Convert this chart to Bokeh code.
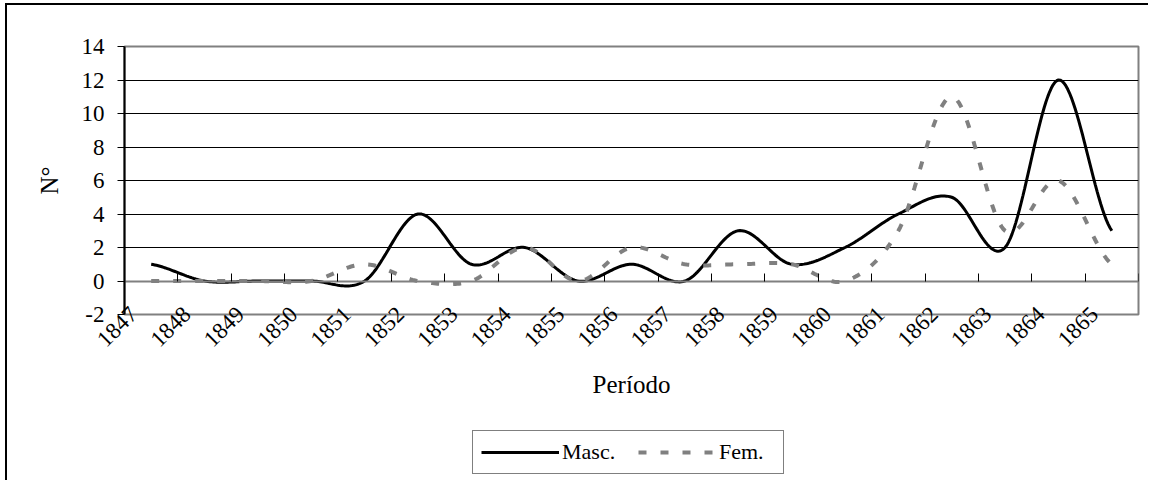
import math
import numpy as np
from bokeh.plotting import figure
from bokeh.layouts import column
from bokeh.models import (Range1d, FixedTicker, LinearAxis, Legend, LegendItem,
                          ColumnDataSource, InlineStyleSheet)
from bokeh.embed import file_html
from bokeh.resources import INLINE

# ---- data -------------------------------------------------------------
years = [str(y) for y in range(1847, 1866)]
masc = [1, 0, 0, 0, 0, 4, 1, 2, 0, 1, 0, 3, 1, 2, 4, 5, 2, 12, 3]
fem = [0, 0, 0, 0, 1, 0, 0, 2, 0, 2, 1, 1, 1, 0, 3, 11, 3, 6, 1]
y_ticks = [-2, 0, 2, 4, 6, 8, 10, 12, 14]
grid_ticks = [2, 4, 6, 8, 10, 12]
series_names = ["Masc.", "Fem."]

FONT = "Liberation Serif"
GRAY = "#808080"
MASC_STYLE = dict(line_color="black", line_width=3)
FEM_STYLE = dict(line_color=GRAY, line_width=4, line_dash="8 14")


def smooth(vals, steps=30):
    """Catmull-Rom style smoothing (as in spreadsheet 'smoothed line')."""
    n = len(vals)
    xs, ys = [], []
    for i in range(n - 1):
        p0 = vals[i - 1] if i > 0 else vals[i]
        p1, p2 = vals[i], vals[i + 1]
        p3 = vals[i + 2] if i + 2 < n else vals[i + 1]
        m1 = (p2 - p0) / 2.0
        m2 = (p3 - p1) / 2.0
        t = np.linspace(0, 1, steps, endpoint=(i == n - 2))
        h00 = 2 * t**3 - 3 * t**2 + 1
        h10 = t**3 - 2 * t**2 + t
        h01 = -2 * t**3 + 3 * t**2
        h11 = t**3 - t**2
        xs.extend(list(i + 0.5 + t))
        ys.extend(list(h00 * p1 + h10 * m1 + h01 * p2 + h11 * m2))
    return xs, ys


mx, my = smooth(masc)
fx, fy = smooth(fem)
src_m = ColumnDataSource(dict(x=mx, y=my))
src_f = ColumnDataSource(dict(x=fx, y=fy))

n = len(years)
p = figure(frame_width=1014, frame_height=268,
           x_range=Range1d(0, n), y_range=Range1d(-2, 14),
           output_backend="svg", toolbar_location=None,
           min_border_left=117, min_border_top=41, min_border_right=10,
           min_border_bottom=113)
p.background_fill_color = "white"
p.border_fill_color = "white"
p.outline_line_color = GRAY
p.outline_line_width = 2

# grid
p.xgrid.visible = False
p.ygrid.ticker = FixedTicker(ticks=grid_ticks)
p.ygrid.grid_line_color = "black"
p.ygrid.grid_line_width = 1

# y axis
p.yaxis.ticker = FixedTicker(ticks=y_ticks)
p.yaxis.major_label_overrides = {t: str(t) for t in y_ticks}
p.yaxis.axis_line_color = "black"
p.yaxis.axis_line_width = 2
p.yaxis.major_tick_line_color = "black"
p.yaxis.major_tick_out = 7
p.yaxis.major_tick_in = 0
p.yaxis.minor_tick_line_color = None
p.yaxis.major_label_text_font = FONT
p.yaxis.major_label_text_font_size = "23px"
p.yaxis.major_label_text_color = "black"
p.yaxis.major_label_standoff = 13
p.yaxis.axis_label = "N°"
p.yaxis.axis_label_text_font = FONT
p.yaxis.axis_label_text_font_style = "normal"
p.yaxis.axis_label_text_font_size = "25px"
p.yaxis.axis_label_text_color = "black"
p.yaxis.axis_label_standoff = 16

# x axis (labels)
p.xaxis.ticker = FixedTicker(ticks=[i + 0.17 for i in range(n)])
p.xaxis.major_label_overrides = {i + 0.17: years[i] for i in range(n)}
p.xaxis.major_label_orientation = math.pi / 4
p.xaxis.axis_line_color = None
p.xaxis.major_tick_line_color = None
p.xaxis.minor_tick_line_color = None
p.xaxis.major_label_text_font = FONT
p.xaxis.major_label_text_font_size = "23px"
p.xaxis.major_label_text_color = "black"
p.xaxis.major_label_standoff = -10
p.xaxis.axis_label = "Período"
p.xaxis.axis_label_text_font = FONT
p.xaxis.axis_label_text_font_style = "normal"
p.xaxis.axis_label_text_font_size = "25px"
p.xaxis.axis_label_text_color = "black"
p.xaxis.axis_label_standoff = 14

# category axis line at y = 0 with tick marks between categories
tick_axis = LinearAxis(fixed_location=0, ticker=FixedTicker(ticks=list(range(n + 1))),
                       major_tick_out=8, major_tick_in=0,
                       major_tick_line_color="black",
                       minor_tick_line_color=None,
                       axis_line_color=GRAY, axis_line_width=2,
                       major_label_text_font_size="0px",
                       major_label_standoff=0)
p.add_layout(tick_axis, "above")

# lines
p.line("x", "y", source=src_m, **MASC_STYLE)
p.line("x", "y", source=src_f, **FEM_STYLE)

# ---- legend in its own strip below the chart (same frame geometry) ----
lf = figure(frame_width=1014, frame_height=48, output_backend="svg", toolbar_location=None,
            x_range=Range1d(-200, -199), y_range=Range1d(-200, -199),
            x_axis_location=None, y_axis_location=None,
            min_border_left=117, min_border_right=10, min_border_top=0,
            min_border_bottom=5)
lf.grid.visible = False
lf.outline_line_color = None
lf.background_fill_color = "white"
lf.border_fill_color = "white"
lm = lf.line("x", "y", source=src_m, **MASC_STYLE)
lfe = lf.line("x", "y", source=src_f, **FEM_STYLE)
legend = Legend(items=[LegendItem(label=series_names[0], renderers=[lm]),
                       LegendItem(label=series_names[1], renderers=[lfe])],
                orientation="horizontal", location=(348, 1),
                border_line_color="black", border_line_width=1,
                background_fill_color="white", background_fill_alpha=1,
                label_text_font=FONT, label_text_font_size="22px",
                label_text_color="black",
                glyph_width=78, glyph_height=20, label_standoff=3,
                label_width=56, spacing=20, padding=8, margin=0)
lf.add_layout(legend, "center")

page = column(p, lf, spacing=0)
page.stylesheets = [InlineStyleSheet(css=":host { border-left: 2px solid black; border-top: 2px solid black; margin-left: 5px; margin-top: 3px; }")]

open("out.html", "w").write(file_html(page, INLINE))
